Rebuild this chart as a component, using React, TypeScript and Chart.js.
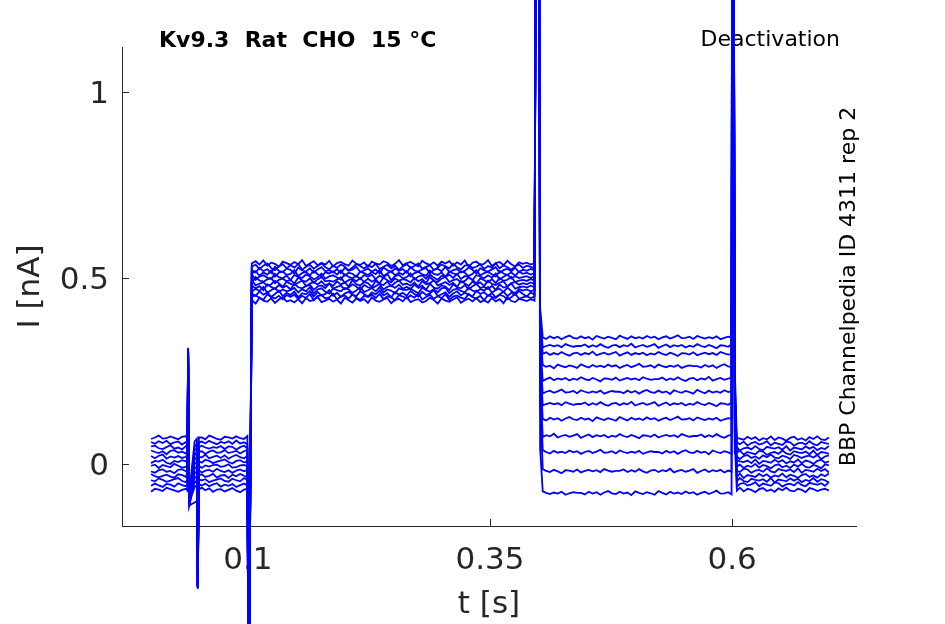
import { useEffect, useRef } from 'react'
import { Chart, registerables } from 'chart.js'

Chart.register(...registerables)

const TRACE_COLOR = '#0000ff'
const AXIS_COLOR = '#262626'
const FONT = "'DejaVu Sans', sans-serif"

const TITLE = 'Kv9.3  Rat  CHO  15 °C'
const PROTOCOL = 'Deactivation'
const SOURCE = 'BBP Channelpedia ID 4311 rep 2'
const X_LABEL = 't [s]'
const Y_LABEL = 'I [nA]'
const X_TICKS = [0.1, 0.35, 0.6]
const Y_TICKS = [0, 0.5, 1]

// sample times, ms
const T_MS = [
  0, 4, 8, 12, 16, 20, 24, 28, 32, 36, 37.5,
  38.3, 39.5, 42, 45, 47.3, 48.2, 49.4,
  52.5, 56, 60, 64, 68, 72, 76, 80, 84, 88, 92, 96, 99.5,
  100.8,
  104, 108, 112, 116, 120, 124, 128, 132, 136, 140,
  144, 148, 152, 156, 160, 164, 168, 172, 176, 180,
  184, 188, 192, 196, 200, 204, 208, 212, 216, 220,
  224, 228, 232, 236, 240, 244, 248, 252, 256, 260,
  264, 268, 272, 276, 280, 284, 288, 292, 296, 300,
  304, 308, 312, 316, 320, 324, 328, 332, 336, 340,
  344, 348, 352, 356, 360, 364, 368, 372, 376, 380,
  384, 388, 392, 396,
  399.5, 401.8,
  404.5,
  408, 412, 416, 420, 424, 428, 432, 436, 440, 444,
  448, 452, 456, 460, 464, 468, 472, 476, 480, 484,
  488, 492, 496, 500, 504, 508, 512, 516, 520, 524,
  528, 532, 536, 540, 544, 548, 552, 556, 560, 564,
  568, 572, 576, 580, 584, 588, 592, 596,
  599.5,
  600.6, 602.8,
  605,
  608, 612, 616, 620, 624, 628, 632, 636, 640, 644,
  648, 652, 656, 660, 664, 668, 672, 676, 680, 684,
  688, 692, 696, 700,
]

// current per sweep, pA
const SWEEP_1 = [
  59, 54, 61, 56, 62, 53, 58, 60, 52, 59, 57,
  310, -108, -25, 45, 55, -330, 58,
  60, 55, 62, 57, 53, 59, 56, 61, 54, 63, 55, 58, 52,
  -700,
  530, 536, 524, 533, 539, 527, 521, 531, 537, 526,
  534, 528, 538, 522, 530, 535, 525, 532, 539, 529,
  523, 533, 527, 536, 531, 520, 528, 537, 532, 525,
  534, 529, 538, 524, 530, 535, 526, 533, 522, 531,
  537, 527, 532, 539, 525, 530, 534, 521, 528, 536,
  531, 526, 538, 529, 523, 533, 535, 527, 530, 537,
  524, 532, 528, 539, 526, 534, 529, 522, 531, 536,
  527, 533, 530, 525,
  3000, 420,
  340, 336, 343, 338, 342, 335, 341, 345, 339, 337,
  343, 338, 341, 334, 344, 340, 337, 342, 339, 335,
  345, 340, 336, 343, 338, 341, 337, 344, 339, 342,
  335, 340, 343, 337, 341, 346, 338, 339, 342, 336,
  344, 340, 337, 341, 338, 343, 335, 339, 342, 340,
  3000, 260,
  58, 53, 60, 49, 56, 59, 52, 55, 61, 50,
  57, 54, 51, 60, 58, 49, 55, 57, 52, 61,
  53, 50, 59, 56, 54,
]
const SWEEP_2 = [
  -59, -53, -58, -62, -54, -56, -61, -52, -57, -60, -55,
  300, -110, -85, -62, -58, -330, -55,
  -58, -53, -60, -55, -52, -61, -56, -59, -54, -62, -57, -53, -59,
  -700,
  458, 452, 464, 455, 461, 449, 457, 466, 451, 460,
  454, 463, 448, 459, 456, 465, 450, 462, 453, 457,
  467, 452, 460, 449, 458, 463, 455, 451, 464, 457,
  450, 461, 456, 466, 453, 459, 448, 462, 455, 460,
  452, 465, 457, 450, 463, 454, 459, 467, 451, 456,
  461, 449, 458, 464, 453, 460, 455, 450, 466, 457,
  462, 452, 459, 448, 456, 463, 451, 460, 454, 465,
  457, 450, 461, 455,
  3000, 400,
  313, 317, 320, 316, 319, 314, 322, 318, 315, 317,
  317, 321, 314, 319, 315, 322, 316, 312, 318, 320,
  314, 319, 316, 323, 313, 317, 320, 315, 318, 322,
  312, 317, 321, 314, 319, 316, 320, 313, 318, 315,
  322, 317, 314, 320, 316, 311, 319, 318, 315, 321,
  3000, 240,
  -61, -54, -51, -58, -55, -49, -60, -53, -56, -59,
  -50, -52, -61, -55, -53, -58, -49, -57, -60, -51,
  -54, -56, -52, -59, -49,
]
const SWEEP_3 = [
  36, 32, 29, 34, 26, 35, 37, 30, 33, 28, 35,
  305, -105, -38, 24, 31, -325, 33,
  34, 27, 33, 36, 30, 31, 37, 29, 32, 35, 28, 34, 38,
  -700,
  512, 518, 506, 515, 509, 520, 503, 514, 517, 508,
  511, 521, 505, 513, 516, 507, 519, 510, 504, 515,
  512, 518, 509, 520, 506, 514, 511, 503, 517, 513,
  508, 516, 510, 521, 505, 512, 518, 507, 514, 509,
  519, 504, 513, 516, 510, 506, 520, 511, 508, 515,
  503, 517, 512, 509, 518, 514, 505, 511, 521, 507,
  513, 516, 510, 504, 519, 512, 508, 515, 506, 517,
  511, 514, 509, 513,
  3000, 390,
  296, 300, 293, 298, 294, 301, 295, 291, 297, 299,
  293, 298, 295, 302, 292, 296, 299, 294, 297, 301,
  291, 296, 300, 293, 298, 295, 299, 292, 297, 294,
  301, 296, 293, 299, 295, 290, 298, 297, 294, 300,
  292, 296, 299, 295, 298, 293, 301, 297, 294, 296,
  3000, 230,
  30, 36, 25, 32, 29, 26, 35, 33, 24, 30,
  32, 27, 36, 28, 25, 34, 31, 29, 33, 26,
  36, 24, 32, 30, 27,
]
const SWEEP_4 = [
  -20, -24, -17, -15, -21, -19, -25, -16, -14, -20, -22,
  300, -112, -65, -25, -20, -335, -18,
  -23, -18, -16, -21, -13, -19, -22, -17, -24, -18, -15, -20, -16,
  -700,
  441, 431, 447, 439, 436, 445, 433, 442, 448, 437,
  440, 434, 443, 432, 446, 438, 441, 449, 435, 439,
  444, 436, 442, 431, 447, 440, 434, 445, 438, 443,
  433, 448, 439, 436, 442, 446, 432, 441, 444, 437,
  449, 435, 440, 443, 434, 438, 447, 441, 431, 445,
  439, 436, 442, 448, 433, 440, 444, 437, 446, 435,
  440, 434, 446, 437, 443, 432, 449, 438, 435, 444,
  441, 438, 443, 439,
  3000, 360,
  266, 261, 264, 257, 267, 263, 260, 265, 262, 258,
  268, 263, 259, 266, 261, 264, 260, 267, 262, 265,
  258, 263, 266, 260, 264, 269, 261, 262, 265, 259,
  267, 263, 260, 264, 261, 266, 258, 262, 265, 263,
  263, 259, 266, 261, 265, 258, 264, 268, 262, 260,
  3000, 210,
  -19, -22, -13, -15, -24, -18, -16, -21, -12, -20,
  -23, -14, -17, -19, -15, -22, -12, -24, -16, -18,
  -21, -13, -19, -14, -23,
]
const SWEEP_5 = [
  47, 49, 42, 40, 45, 50, 41, 44, 39, 48, 45,
  312, -106, -31, 36, 43, -328, 45,
  49, 44, 41, 45, 43, 48, 40, 47, 46, 38, 45, 49, 42,
  -700,
  539, 545, 536, 547, 533, 541, 538, 530, 544, 540,
  535, 543, 537, 548, 532, 539, 545, 534, 541, 536,
  546, 531, 540, 543, 537, 533, 547, 538, 535, 542,
  530, 544, 539, 536, 545, 541, 532, 538, 548, 534,
  540, 543, 537, 531, 546, 539, 535, 542, 533, 544,
  539, 545, 533, 542, 536, 547, 530, 541, 544, 535,
  538, 548, 532, 540, 543, 534, 546, 537, 531, 542,
  538, 541, 536, 540,
  3000, 330,
  223, 228, 232, 225, 230, 227, 231, 224, 229, 226,
  233, 228, 225, 231, 227, 222, 230, 229, 226, 232,
  224, 228, 231, 227, 230, 225, 233, 229, 226, 228,
  228, 232, 225, 230, 226, 233, 227, 223, 229, 231,
  225, 230, 227, 234, 224, 228, 231, 226, 229, 233,
  3000, 190,
  45, 36, 42, 44, 39, 48, 40, 37, 46, 43,
  41, 45, 38, 48, 36, 44, 42, 39, 47, 41,
  46, 37, 43, 40, 48,
]
const SWEEP_6 = [
  -44, -47, -39, -43, -48, -45, -41, -38, -46, -49, -42,
  298, -109, -78, -50, -45, -332, -43,
  -44, -41, -49, -45, -42, -39, -46, -48, -40, -44, -47, -38, -43,
  -700,
  480, 472, 478, 467, 483, 476, 470, 481, 474, 479,
  469, 484, 475, 472, 478, 482, 468, 477, 480, 473,
  485, 471, 476, 479, 470, 474, 483, 477, 467, 481,
  475, 472, 478, 484, 469, 476, 480, 473, 482, 471,
  476, 470, 482, 473, 479, 468, 485, 474, 471, 480,
  477, 467, 483, 475, 472, 481, 469, 478, 484, 473,
  476, 470, 479, 468, 482, 474, 477, 485, 471, 475,
  477, 474, 479, 475,
  3000, 300,
  189, 194, 197, 191, 195, 200, 192, 193, 196, 190,
  198, 194, 191, 195, 192, 197, 189, 193, 196, 194,
  194, 190, 197, 192, 196, 189, 195, 199, 193, 191,
  197, 192, 195, 188, 198, 194, 191, 196, 193, 189,
  199, 194, 190, 197, 192, 195, 191, 198, 193, 196,
  3000, 170,
  -47, -38, -46, -49, -40, -43, -45, -41, -48, -38,
  -50, -42, -44, -47, -39, -45, -40, -49, -43, -46,
  -38, -48, -41, -44, -50,
]
const SWEEP_7 = [
  2, 8, 6, 11, 3, 0, 8, 5, 10, 7, 4,
  306, -104, -50, 0, 5, -326, 7,
  3, 11, 8, 2, 6, 9, 12, 5, 1, 8, 10, 4, 6,
  -700,
  510, 495, 504, 507, 501, 497, 511, 502, 499, 506,
  494, 508, 503, 500, 509, 505, 496, 502, 512, 498,
  504, 507, 501, 495, 510, 503, 499, 506, 497, 508,
  503, 509, 497, 506, 500, 511, 494, 505, 508, 499,
  502, 512, 496, 504, 507, 498, 510, 501, 495, 506,
  503, 509, 500, 511, 497, 505, 502, 494, 508, 504,
  499, 507, 501, 512, 496, 503, 509, 498, 505, 500,
  502, 505, 500, 504,
  3000, 280,
  157, 161, 164, 160, 163, 158, 166, 162, 159, 161,
  161, 165, 158, 163, 159, 166, 160, 156, 162, 164,
  158, 163, 160, 167, 157, 161, 164, 159, 162, 166,
  156, 161, 165, 158, 163, 160, 164, 157, 162, 159,
  166, 161, 158, 164, 160, 155, 163, 162, 159, 165,
  3000, 150,
  10, 7, 5, 9, 2, 12, 0, 8, 6, 3,
  11, 5, 10, 1, 7, 4, 12, 2, 9, 6,
  0, 8, 11, 3, 7,
]
const SWEEP_8 = [
  -27, -33, -36, -32, -29, -34, -37, -28, -30, -35, -26,
  302, -111, -72, -38, -33, -331, -31,
  -28, -35, -32, -27, -37, -31, -30, -38, -29, -33, -27, -32, -36,
  -700,
  494, 480, 485, 488, 479, 483, 492, 486, 476, 490,
  484, 481, 487, 493, 478, 485, 489, 482, 491, 480,
  485, 479, 491, 482, 488, 477, 494, 483, 480, 489,
  486, 476, 492, 484, 481, 490, 478, 487, 493, 482,
  485, 479, 488, 477, 491, 483, 486, 494, 480, 484,
  489, 481, 487, 476, 492, 485, 479, 490, 483, 488,
  478, 493, 484, 481, 487, 491, 477, 486, 489, 482,
  486, 483, 488, 484,
  3000, 250,
  121, 117, 124, 119, 123, 116, 122, 126, 120, 118,
  124, 119, 122, 115, 125, 121, 118, 123, 120, 116,
  126, 121, 117, 124, 119, 122, 118, 125, 120, 123,
  116, 121, 124, 118, 122, 127, 119, 120, 123, 117,
  125, 121, 118, 122, 119, 124, 116, 120, 123, 121,
  3000, 130,
  -36, -26, -38, -30, -32, -35, -27, -33, -28, -37,
  -31, -34, -26, -36, -29, -32, -38, -30, -27, -35,
  -31, -37, -28, -33, -26,
]
const SWEEP_9 = [
  67, 71, 76, 68, 69, 74, 70, 66, 73, 75, 65,
  308, -100, -15, 60, 68, -334, 71,
  71, 66, 76, 72, 67, 65, 73, 71, 68, 74, 69, 67, 75,
  -700,
  450, 453, 447, 441, 456, 449, 445, 452, 443, 454,
  449, 455, 443, 452, 446, 457, 440, 451, 454, 445,
  448, 458, 442, 450, 453, 444, 456, 447, 441, 452,
  449, 455, 446, 457, 443, 451, 448, 440, 454, 450,
  445, 453, 447, 458, 442, 449, 455, 444, 451, 446,
  456, 441, 450, 453, 447, 443, 457, 448, 445, 452,
  440, 454, 449, 446, 455, 451, 442, 448, 458, 444,
  448, 451, 446, 450,
  3000, 220,
  72, 77, 74, 81, 71, 75, 78, 73, 76, 80,
  70, 75, 79, 72, 77, 74, 78, 71, 76, 73,
  80, 75, 72, 78, 74, 69, 77, 76, 73, 79,
  71, 75, 78, 74, 77, 72, 80, 76, 73, 75,
  75, 79, 72, 77, 73, 80, 74, 70, 76, 78,
  3000, 110,
  70, 68, 65, 73, 67, 72, 63, 69, 66, 74,
  64, 71, 68, 62, 70, 73, 65, 69, 63, 72,
  67, 74, 66, 64, 71,
]
const SWEEP_10 = [
  -5, -2, -11, -3, -6, -9, 0, -5, -10, -8, -2,
  304, -107, -57, -12, -7, -329, -5,
  -11, -4, -7, -3, -2, -8, -6, -1, -10, -9, -4, -3, -7,
  -700,
  521, 515, 527, 518, 524, 513, 530, 519, 516, 525,
  522, 512, 528, 520, 517, 526, 514, 523, 529, 518,
  521, 515, 524, 513, 527, 519, 522, 530, 516, 520,
  525, 517, 523, 512, 528, 521, 515, 526, 519, 524,
  514, 529, 520, 517, 523, 527, 513, 522, 525, 518,
  530, 516, 521, 524, 515, 519, 528, 522, 512, 526,
  520, 517, 523, 529, 514, 521, 525, 518, 527, 516,
  522, 519, 524, 520,
  3000, 200,
  37, 32, 28, 35, 30, 33, 29, 36, 31, 34,
  27, 32, 35, 29, 33, 38, 30, 31, 34, 28,
  36, 32, 29, 33, 30, 35, 27, 31, 34, 32,
  32, 28, 35, 30, 34, 27, 33, 37, 31, 29,
  35, 30, 33, 26, 36, 32, 29, 34, 31, 27,
  3000, 90,
  -7, -2, -11, -5, -8, 0, -10, -3, -6, -12,
  -4, -1, -9, -5, -11, -2, -7, 0, -8, -10,
  -3, -6, -12, -1, -4,
]
const SWEEP_11 = [
  -75, -67, -69, -73, -64, -68, -71, -75, -70, -67, -72,
  296, -112, -108, -104, -100, -336, -69,
  -64, -71, -66, -75, -69, -68, -74, -70, -65, -72, -76, -69, -67,
  -700,
  463, 471, 465, 476, 460, 467, 473, 462, 469, 464,
  467, 473, 461, 470, 464, 475, 458, 469, 472, 463,
  458, 472, 467, 464, 473, 469, 460, 466, 476, 462,
  467, 473, 464, 475, 461, 469, 466, 458, 472, 468,
  468, 471, 465, 459, 474, 467, 463, 470, 461, 472,
  474, 459, 468, 471, 465, 461, 475, 466, 463, 470,
  466, 476, 460, 468, 471, 462, 474, 465, 459, 470,
  466, 469, 464, 468,
  3000, 170,
  -14, -19, -22, -16, -20, -25, -17, -18, -21, -15,
  -23, -19, -16, -20, -17, -22, -14, -18, -21, -19,
  -19, -15, -22, -17, -21, -14, -20, -24, -18, -16,
  -22, -17, -20, -13, -23, -19, -16, -21, -18, -14,
  -24, -19, -15, -22, -17, -20, -16, -23, -18, -21,
  3000, 60,
  -72, -64, -74, -67, -70, -76, -68, -65, -73, -69,
  -75, -66, -71, -64, -72, -74, -67, -70, -76, -65,
  -68, -73, -69, -67, -72,
]
const SWEEP_12 = [
  21, 15, 22, 25, 14, 20, 17, 21, 16, 19, 24,
  300, -105, -43, 12, 18, -327, 20,
  17, 25, 15, 19, 22, 16, 23, 14, 20, 24, 18, 15, 21,
  -700,
  487, 502, 493, 490, 496, 500, 486, 495, 498, 491,
  495, 485, 501, 493, 490, 499, 487, 496, 502, 491,
  493, 490, 496, 502, 487, 494, 498, 491, 500, 489,
  498, 490, 496, 485, 501, 494, 488, 499, 492, 497,
  494, 488, 500, 491, 497, 486, 503, 492, 489, 498,
  503, 489, 494, 497, 488, 492, 501, 495, 485, 499,
  494, 488, 497, 486, 500, 492, 495, 503, 489, 493,
  495, 492, 497, 493,
  3000, 40,
  -74, -78, -81, -77, -80, -75, -83, -79, -76, -78,
  -78, -82, -75, -80, -76, -83, -77, -73, -79, -81,
  -75, -80, -77, -84, -74, -78, -81, -76, -79, -83,
  -73, -78, -82, -75, -80, -77, -81, -74, -79, -76,
  -83, -78, -75, -81, -77, -72, -80, -79, -76, -82,
  3000, 30,
  19, 13, 21, 24, 16, 20, 14, 23, 18, 25,
  17, 15, 22, 19, 13, 24, 21, 16, 20, 22,
  17, 24, 13, 20, 23,
]

const SWEEPS = [
  SWEEP_1, SWEEP_2, SWEEP_3, SWEEP_4, SWEEP_5, SWEEP_6,
  SWEEP_7, SWEEP_8, SWEEP_9, SWEEP_10, SWEEP_11, SWEEP_12,
]

// inward tick marks and the free-floating labels
const decorations = {
  id: 'decorations',
  beforeDatasetsDraw(chart: Chart) {
    const { ctx, chartArea, scales } = chart
    ctx.save()
    ctx.strokeStyle = AXIS_COLOR
    ctx.lineWidth = 1
    ctx.beginPath()
    for (const v of X_TICKS) {
      const px = Math.round(scales.x.getPixelForValue(v)) + 0.5
      ctx.moveTo(px, chartArea.bottom)
      ctx.lineTo(px, chartArea.bottom - 7)
    }
    for (const v of Y_TICKS) {
      const py = Math.round(scales.y.getPixelForValue(v)) + 0.5
      ctx.moveTo(chartArea.left, py)
      ctx.lineTo(chartArea.left + 7, py)
    }
    ctx.stroke()

    ctx.fillStyle = '#000'
    ctx.textBaseline = 'alphabetic'
    ctx.font = `bold 22px ${FONT}`
    ctx.textAlign = 'left'
    ctx.fillText(TITLE, chartArea.left + 37, chartArea.top)
    ctx.font = `22px ${FONT}`
    ctx.textAlign = 'right'
    ctx.fillText(PROTOCOL, chartArea.right - 16, chartArea.top - 1)

    ctx.translate(chartArea.right - 7, (chartArea.top + chartArea.bottom) / 2)
    ctx.rotate(-Math.PI / 2)
    ctx.textAlign = 'center'
    ctx.textBaseline = 'middle'
    ctx.fillText(SOURCE, 0, 0)
    ctx.restore()
  },
}

export default function App() {
  const canvasRef = useRef<HTMLCanvasElement>(null)
  const chartRef = useRef<Chart | null>(null)

  useEffect(() => {
    if (!canvasRef.current) return
    chartRef.current?.destroy()

    const tickFont = { family: FONT, size: 31 }

    chartRef.current = new Chart(canvasRef.current, {
      type: 'line',
      data: {
        datasets: SWEEPS.map((sweep) => ({
          data: T_MS.map((t, i) => ({ x: t / 1000, y: sweep[i] / 1000 })),
          borderColor: TRACE_COLOR,
          borderWidth: 1.8,
          pointRadius: 0,
          tension: 0,
          fill: false,
          clip: false as const,
        })),
      },
      options: {
        animation: false,
        responsive: false,
        events: [],
        layout: { padding: { top: 47, right: 89, left: 0, bottom: 0 } },
        plugins: {
          legend: { display: false },
          tooltip: { enabled: false },
        },
        scales: {
          x: {
            type: 'linear',
            min: -0.03,
            max: 0.728,
            afterFit: (scale) => {
              scale.height = 98
            },
            afterBuildTicks: (scale) => {
              scale.ticks = X_TICKS.map((value) => ({ value }))
            },
            ticks: {
              color: AXIS_COLOR,
              font: tickFont,
              padding: 16,
              maxRotation: 0,
              autoSkip: false,
              callback: (v) => String(v),
            },
            grid: { display: false, drawTicks: false },
            border: { display: true, color: AXIS_COLOR, width: 1 },
            title: {
              display: true,
              text: X_LABEL,
              color: AXIS_COLOR,
              font: { ...tickFont, lineHeight: 1.2 },
              padding: { top: 0, bottom: 0 },
            },
          },
          y: {
            type: 'linear',
            min: -0.167,
            max: 1.121,
            afterFit: (scale) => {
              scale.width = 122
            },
            afterBuildTicks: (scale) => {
              scale.ticks = Y_TICKS.map((value) => ({ value }))
            },
            ticks: {
              color: AXIS_COLOR,
              font: tickFont,
              padding: 13,
              labelOffset: 3,
              autoSkip: false,
              callback: (v) => String(v),
            },
            grid: { display: false, drawTicks: false },
            border: { display: true, color: AXIS_COLOR, width: 1 },
            title: {
              display: true,
              text: Y_LABEL,
              color: AXIS_COLOR,
              font: { ...tickFont, lineHeight: 1.2 },
              padding: { top: 12, bottom: 0 },
            },
          },
        },
      },
      plugins: [decorations],
    })

    return () => {
      chartRef.current?.destroy()
      chartRef.current = null
    }
  }, [])

  return (
    <div style={{ position: 'fixed', left: 0, top: 0, width: 945, height: 624, background: '#fff' }}>
      <canvas ref={canvasRef} width={945} height={624} />
    </div>
  )
}
